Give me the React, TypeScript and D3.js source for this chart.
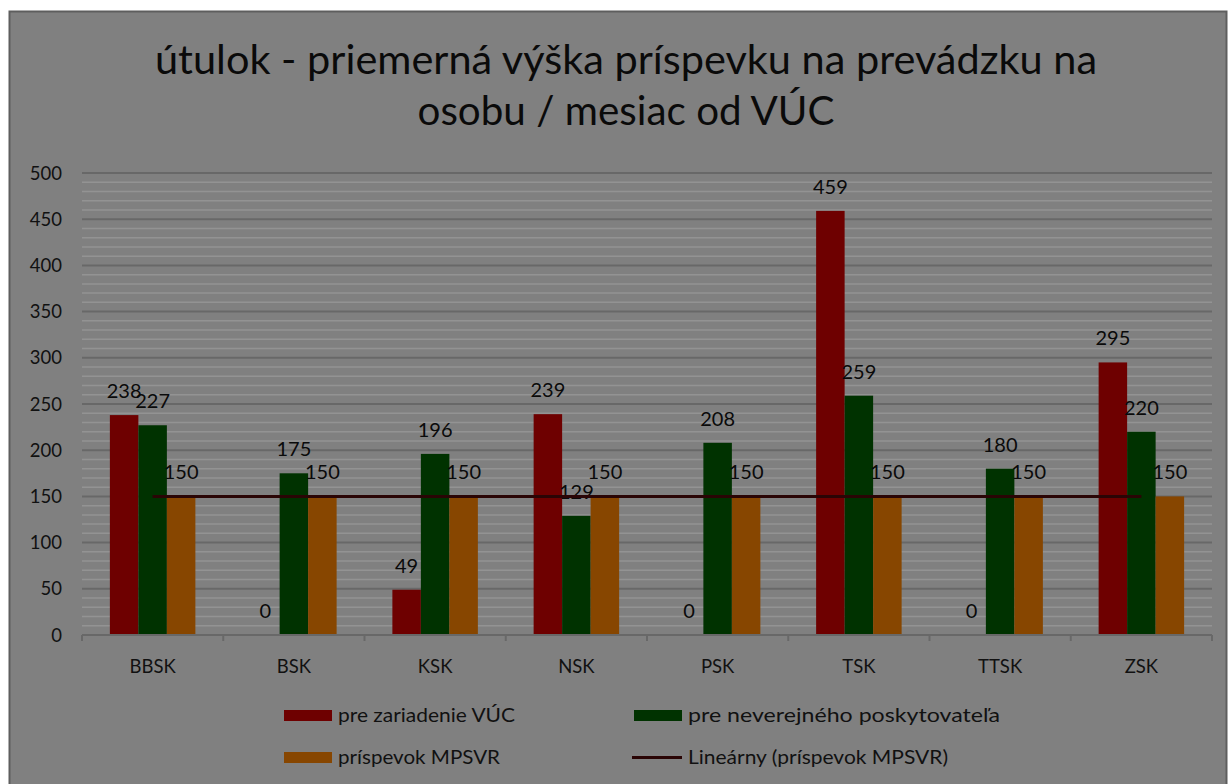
import React from "react";
import * as d3 from "d3";

const categories = ["BBSK", "BSK", "KSK", "NSK", "PSK", "TSK", "TTSK", "ZSK"];
const seriesNames = ["pre zariadenie VÚC", "pre neverejného poskytovateľa", "príspevok MPSVR"];
const vucValues = [238, 0, 49, 239, 0, 459, 0, 295];
const neverejnyValues = [227, 175, 196, 129, 208, 259, 180, 220];
const mpsvrValues = [150, 150, 150, 150, 150, 150, 150, 150];
const trendName = "Lineárny (príspevok MPSVR)";
const yTicks = [0, 50, 100, 150, 200, 250, 300, 350, 400, 450, 500];
const colors = ["#6e0000", "#003200", "#874600"];
const trendColor = "#2a0505";

const W = 1229;
const H = 784;
const left = 82;
const right = 1212;
const top = 173;
const bottom = 635;
const font = "Lato, 'Open Sans', sans-serif";

export default function App() {
  const x = d3.scaleBand<string>().domain(categories).range([left, right]).paddingInner(0).paddingOuter(0);
  const y = d3.scaleLinear().domain([0, 500]).range([bottom, top]);
  const bw = 28.5;
  const series = [vucValues, neverejnyValues, mpsvrValues];
  const minor = d3.range(0, 501, 10).filter((v) => v % 50 !== 0);

  // linear trend of MPSVR series
  const n = mpsvrValues.length;
  const xs = d3.range(n);
  const mx = d3.mean(xs)!;
  const my = d3.mean(mpsvrValues)!;
  const slope =
    d3.sum(xs, (i) => (i - mx) * (mpsvrValues[i] - my)) / (d3.sum(xs, (i) => (i - mx) ** 2) || 1);
  const icpt = my - slope * mx;
  const center = (c: string) => x(c)! + x.bandwidth() / 2;
  const trendLine = d3
    .line<number>()
    .x((i) => center(categories[i]))
    .y((i) => y(icpt + slope * i));

  const legend = [
    { kind: "rect", color: colors[0], x: 284, y: 715.5, label: seriesNames[0], len: 177 },
    { kind: "rect", color: colors[1], x: 634, y: 715.5, label: seriesNames[1], len: 312 },
    { kind: "rect", color: colors[2], x: 284, y: 757.5, label: seriesNames[2], len: 162 },
    { kind: "line", color: trendColor, x: 634, y: 757.5, label: trendName, len: 260 },
  ];

  return (
    <svg
      width={W}
      height={H}
      style={{ position: "absolute", left: 0, top: 0, background: "#fff" }}
      fontFamily={font}
    >
      <rect x={9.5} y={11.5} width={1217} height={790} fill="#808080" stroke="#5e5e5e" strokeWidth={2} />
      <text fontSize={40} fill="#0a0a0a" textAnchor="middle">
        <tspan x={626} y={74} textLength={942} lengthAdjust="spacingAndGlyphs">
          útulok - priemerná výška príspevku na prevádzku na
        </tspan>
        <tspan x={626} y={125} textLength={417} lengthAdjust="spacingAndGlyphs">
          osobu / mesiac od VÚC
        </tspan>
      </text>

      {minor.map((v) => (
        <line key={"m" + v} x1={left} x2={right} y1={y(v)} y2={y(v)} stroke="#939393" strokeWidth={1.5} />
      ))}
      {yTicks.filter((v) => v > 0).map((v) => (
        <line key={"M" + v} x1={left} x2={right} y1={y(v)} y2={y(v)} stroke="#686868" strokeWidth={2} />
      ))}
      {yTicks.map((v) => (
        <text key={"t" + v} x={62} y={y(v)} dy="0.36em" textAnchor="end" fontSize={18.5} fill="#111">
          {v}
        </text>
      ))}

      {categories.map((c, ci) =>
        series.map((s, si) => {
          const bx = center(c) - 1.5 * bw + si * bw;
          return (
            <rect key={c + si} x={bx} y={y(s[ci])} width={bw} height={bottom - y(s[ci])} fill={colors[si]} />
          );
        })
      )}

      <line x1={left} x2={right} y1={bottom} y2={bottom} stroke="#686868" strokeWidth={2} />
      {d3.range(categories.length + 1).map((i) => {
        const tx = left + i * x.bandwidth();
        return <line key={"tk" + i} x1={tx} x2={tx} y1={bottom} y2={bottom + 6} stroke="#686868" strokeWidth={2} />;
      })}
      {categories.map((c) => (
        <text key={"c" + c} x={center(c)} y={666} dy="0.36em" textAnchor="middle" fontSize={18.5} fill="#111">
          {c}
        </text>
      ))}

      {categories.map((c, ci) =>
        series.map((s, si) => {
          const bx = center(c) - 1.5 * bw + si * bw + bw / 2;
          return (
            <text key={"l" + c + si} x={bx} y={y(s[ci]) - 17} textAnchor="middle" fontSize={20} fill="#0a0a0a">
              {s[ci]}
            </text>
          );
        })
      )}

      <path d={trendLine(xs) || ""} stroke={trendColor} strokeWidth={3} fill="none" />

      {legend.map((l) => (
        <g key={l.label}>
          {l.kind === "rect" ? (
            <rect x={l.x} y={l.y - 5.5} width={48} height={11} fill={l.color} />
          ) : (
            <line x1={l.x - 2} x2={l.x + 48} y1={l.y} y2={l.y} stroke={l.color} strokeWidth={3} />
          )}
          <text
            x={l.x + 54}
            y={l.y}
            dy="0.36em"
            fontSize={19}
            fill="#111"
            textLength={l.len}
            lengthAdjust="spacingAndGlyphs"
          >
            {l.label}
          </text>
        </g>
      ))}
    </svg>
  );
}
